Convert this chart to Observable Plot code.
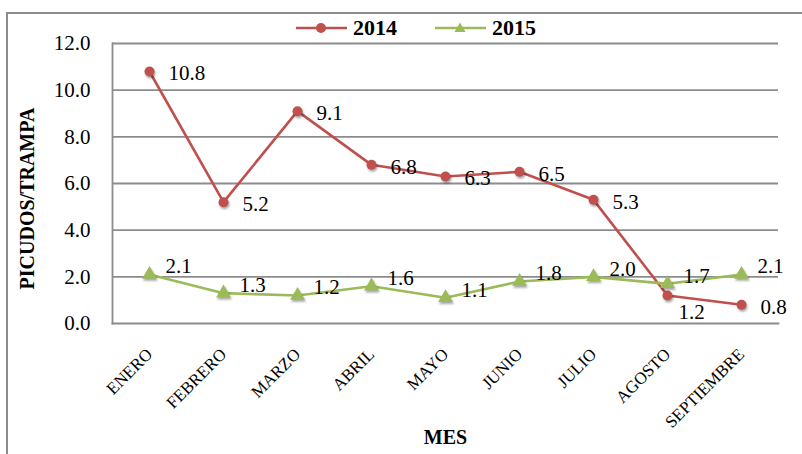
<!DOCTYPE html>
<html><head><meta charset="utf-8">
<script src="https://cdn.jsdelivr.net/npm/d3@7"></script>
<script src="https://cdn.jsdelivr.net/npm/@observablehq/plot@0.6"></script>
<style>
body{margin:0;background:#fff;}
#wrap{position:relative;width:802px;height:454px;overflow:hidden;font-family:"Liberation Serif";background:#fff;}
#border{position:absolute;left:6px;top:12px;width:900px;height:600px;border:2px solid #8c8c8c;box-sizing:border-box;}
#chart{position:absolute;left:0;top:0;}
#legend{position:absolute;top:15px;left:296px;display:flex;align-items:center;font-weight:bold;font-size:22px;color:#000;line-height:26px;font-family:"Liberation Serif";}
#legend .item{display:flex;align-items:center;}
#legend svg{margin-right:6px;}
#chart svg, #chart svg text{font-family:"Liberation Serif" !important;}
svg g[aria-label="dot"]{filter:drop-shadow(1px 2px 1.2px rgba(0,0,0,0.35));}
</style>
</head><body>
<div id="wrap"><div id="border"></div><div id="chart"></div><div id="legend"></div></div>
<script>
const months = ["ENERO","FEBRERO","MARZO","ABRIL","MAYO","JUNIO","JULIO","AGOSTO","SEPTIEMBRE"];
const values2014 = [10.8, 5.2, 9.1, 6.8, 6.3, 6.5, 5.3, 1.2, 0.8];
const values2015 = [2.1, 1.3, 1.2, 1.6, 1.1, 1.8, 2.0, 1.7, 2.1];
const seriesNames = ["2014", "2015"];
const yTicks = [0, 2, 4, 6, 8, 10, 12];
const yLabel = "PICUDOS/TRAMPA";
const xLabel = "MES";

const colors = {"2014": "#C0504D", "2015": "#9BBB59"};
const d2014 = months.map((m, i) => ({month: m, value: values2014[i], other: values2015[i], series: seriesNames[0]}));
const d2015 = months.map((m, i) => ({month: m, value: values2015[i], series: seriesNames[1]}));
const all = d2014.concat(d2015);
const FONT = "Liberation Serif";
// 2014 labels that would collide with the 2015 line go below-right
const near = d => Math.abs(d.value - d.other) < 1;
const d2014a = d2014.filter(d => !near(d));
const d2014b = d2014.filter(d => near(d));

const chart = Plot.plot({
  width: 802, height: 454,
  marginLeft: 112, marginRight: 24, marginTop: 43, marginBottom: 131,
  x: {type: "band", domain: months, padding: 0},
  y: {domain: [0, 12]},
  style: {fontFamily: FONT, fontSize: "21px", color: "#000", background: "transparent", overflow: "visible"},
  marks: [
    Plot.ruleY(yTicks.filter(t => t > 0), {stroke: "#8c8c8c", strokeWidth: 1.8}),
    Plot.frame({anchor: "left", stroke: "#8c8c8c", strokeWidth: 1.8}),
    Plot.frame({anchor: "bottom", stroke: "#8c8c8c", strokeWidth: 1.8}),
    Plot.line(all, {x: "month", y: "value", z: "series", stroke: d => colors[d.series], strokeWidth: 2.6}),
    Plot.dot(d2014, {x: "month", y: "value", symbol: "circle", r: 5, fill: colors["2014"]}),
    Plot.dot(d2015, {x: "month", y: "value", symbol: "triangle", r: 5.5, fill: colors["2015"]}),
    Plot.text(d2014a, {x: "month", y: "value", text: d => d.value.toFixed(1), textAnchor: "start", dx: 19, dy: 2, fontSize: 21, fontFamily: FONT, fill: "#000"}),
    Plot.text(d2014b, {x: "month", y: "value", text: d => d.value.toFixed(1), textAnchor: "start", dx: 11, dy: 17, fontSize: 21, fontFamily: FONT, fill: "#000"}),
    Plot.text(d2015, {x: "month", y: "value", text: d => d.value.toFixed(1), textAnchor: "start", dx: 16, dy: -8, fontSize: 21, fontFamily: FONT, fill: "#000"}),
    Plot.axisY({ticks: yTicks, tickFormat: d => d.toFixed(1), tickSize: 0, tickPadding: 22, fontSize: 21, fontFamily: FONT, label: null}),
    Plot.axisX({tickRotate: -45, tickSize: 0, tickPadding: 28, fontSize: 17, fontFamily: FONT, label: null}),
    Plot.text([yLabel], {text: d => d, frameAnchor: "left", textAnchor: "middle", rotate: -90, dx: -85, dy: 15, fontWeight: "bold", fontSize: 20, fontFamily: FONT, fill: "#000"}),
    Plot.text([xLabel], {text: d => d, frameAnchor: "bottom", textAnchor: "middle", dy: 120, fontWeight: "bold", fontSize: 20, fontFamily: FONT, fill: "#000"})
  ]
});
document.getElementById("chart").appendChild(chart);

// legend
const legend = document.getElementById("legend");
seriesNames.forEach((s, i) => {
  const item = document.createElement("div");
  item.className = "item";
  if (i > 0) item.style.marginLeft = "38px";
  const marker = s === "2014"
    ? `<circle cx="25" cy="7" r="5" fill="${colors[s]}"/>`
    : `<path d="M25,1.5 L30.5,11 L19.5,11 Z" fill="${colors[s]}"/>`;
  item.innerHTML = `<svg width="51" height="14"><line x1="0" x2="51" y1="7" y2="7" stroke="${colors[s]}" stroke-width="2.6"/>${marker}</svg><span>${s}</span>`;
  legend.appendChild(item);
});
</script>
</body></html>
